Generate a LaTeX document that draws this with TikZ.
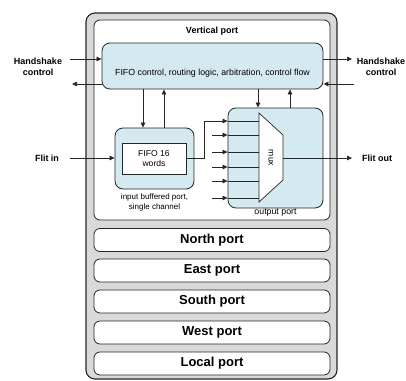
\documentclass[tikz,border=0pt]{standalone}
\usepackage{fontspec}
\setmainfont{Liberation Sans}
\usetikzlibrary{arrows.meta}
\definecolor{routergray}{HTML}{D9D9D9}
\definecolor{portblue}{HTML}{D4EAF0}
\definecolor{edgegray}{HTML}{262626}

\begin{document}
\begin{tikzpicture}[x=1pt, y=-1pt, font=\fontsize{8}{10}\selectfont,
  frame/.style={draw=edgegray, line width=0.8pt, rounded corners=6pt, inner sep=0pt},
  wire/.style={draw=edgegray, line width=0.7pt, -{Triangle[length=5pt,width=4.5pt]}},
  plain/.style={draw=edgegray, line width=0.7pt},
  heading/.style={font=\fontsize{9}{11}\selectfont\bfseries, align=center, inner sep=0pt},
  portname/.style={font=\fontsize{13}{15}\selectfont\bfseries}]
  \useasboundingbox (0,0) rectangle (406,380);
  % router
  \node[frame, fill=routergray, line width=1.1pt, rounded corners=9pt,
        minimum width=251pt, minimum height=366pt] (router) at (211.5,196) {};
  \node[frame, fill=white, minimum width=236pt, minimum height=200pt] (vport) at (212,120) {};
  \node[heading] (vtitle) at (212,31) {Vertical port};
  % control
  \node[frame, fill=portblue, rounded corners=8pt,
        minimum width=221pt, minimum height=46pt] (ctrl) at (212.5,66) {};
  \node[inner sep=0pt, font=\fontsize{8.8}{10}\selectfont] (ctrltext) at ([yshift=-7pt]ctrl.center)
    {FIFO control, routing logic, arbitration, control flow};
  % input port
  \node[frame, fill=portblue, rounded corners=8pt,
        minimum width=79pt, minimum height=61pt] (inbuf) at (154.5,158.5) {};
  \node[draw=edgegray, line width=0.8pt, fill=white, minimum width=64pt, minimum height=31pt,
        align=center, inner sep=0pt, font=\fontsize{8.6}{10.5}\selectfont] (fifo) at (154,158.5)
    {FIFO 16\\words};
  \node[align=center, inner sep=0pt, anchor=north] (inlabel) at (154.5,193)
    {input buffered port,\\single channel};
  % output port
  \node[frame, fill=portblue, rounded corners=8pt,
        minimum width=95pt, minimum height=100pt] (outport) at (275.5,158) {};
  \node[inner sep=0pt, anchor=north, font=\fontsize{8.8}{10}\selectfont] (outlabel) at (275.5,209) {output port};
  \draw[plain, fill=white] (259,113) coordinate (muxtl) -- (283,135) -- (283,180)
    -- (259,202) coordinate (muxbl) -- cycle;
  \coordinate (muxout) at (283,158);
  \node[rotate=-90, inner sep=0pt, font=\fontsize{8.6}{10}\selectfont] (muxtext) at (271,158) {mux};
  \draw[wire] (fifo.east) -| (204,121) -- (outport.west |- 0,121);
  \draw[plain] (outport.west |- 0,121) -- (muxtl |- 0,121);
  \foreach \y in {135,152,167,181,198}
    {\draw[wire] (212,\y) -- (outport.west |- 0,\y);
     \draw[plain] (outport.west |- 0,\y) -- (muxtl |- 0,\y);}
  % control links
  \draw[wire] ([xshift=-11.5pt]inbuf.north |- ctrl.south) -- ([xshift=-11.5pt]inbuf.north);
  \draw[wire] ([xshift=9.5pt]inbuf.north) -- ([xshift=9.5pt]inbuf.north |- ctrl.south);
  \draw[wire] ([xshift=-17.5pt]outport.north |- ctrl.south) -- ([xshift=-17.5pt]outport.north);
  \draw[wire] ([xshift=14.5pt]outport.north) -- ([xshift=14.5pt]outport.north |- ctrl.south);
  % other ports
  \foreach \name/\y in {North/240, East/270.5, South/301.5, West/332.5, Local/363.5}
    \node[frame, fill=white, minimum width=236pt, minimum height=23pt, portname]
      (\name) at (212,\y) {\name\ port};
  % outside signals
  \node[heading] (hsleft) at (38,67) {Handshake\\control};
  \node[heading] (hsright) at (381,67) {Handshake\\control};
  \node[heading] (flitin) at (47,158) {Flit in};
  \node[heading] (flitout) at (377,158) {Flit out};
  \coordinate (hslin) at (70,59);
  \coordinate (hslout) at (72,84);
  \coordinate (hsrout) at (352,59);
  \coordinate (hsrin) at (354,84);
  \coordinate (flitsrc) at (70,158);
  \coordinate (flitdst) at (352,158);
  \draw[wire] (hslin) -- (hslin -| ctrl.west);
  \draw[wire] (hslout -| ctrl.west) -- (hslout);
  \draw[wire] (hsrout -| ctrl.east) -- (hsrout);
  \draw[wire] (hsrin) -- (hsrin -| ctrl.east);
  \draw[wire] (flitsrc) -- (flitsrc -| inbuf.west);
  \draw[wire] (muxout) -- (flitdst);
\end{tikzpicture}
\end{document}
